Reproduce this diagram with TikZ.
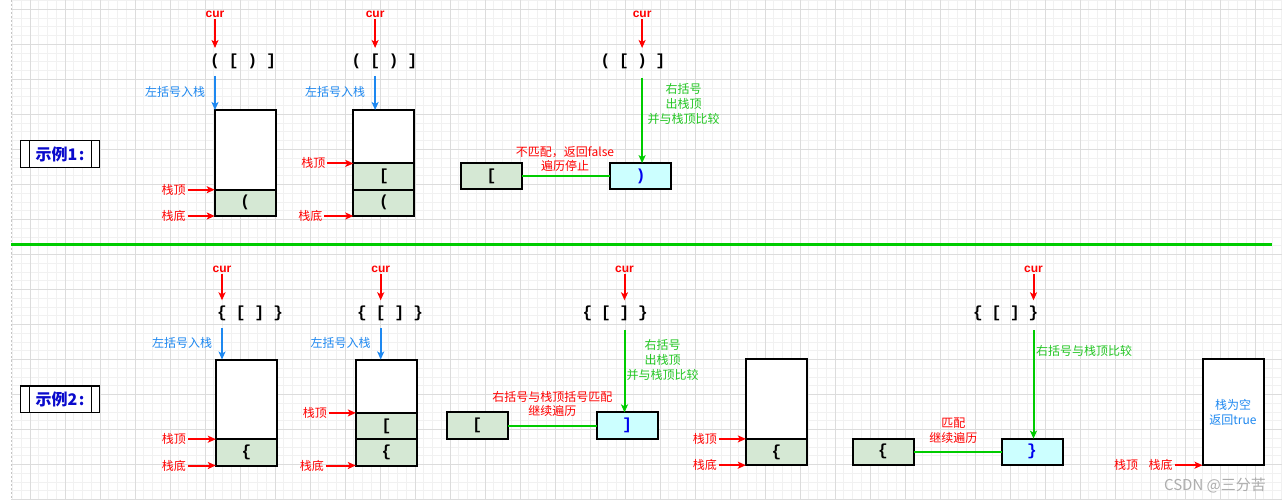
\documentclass[tikz,border=0pt]{standalone}
\usepackage{fontspec}
\setmainfont{Liberation Sans}
\newfontfamily\cjk{Noto Sans CJK SC}
\newfontfamily\monof{Liberation Mono}
\usetikzlibrary{arrows.meta}
\definecolor{cred}{HTML}{FF0000}
\definecolor{cblue}{HTML}{1E88F0}
\definecolor{cgreen}{HTML}{00CC00}
\definecolor{cgtext}{HTML}{22C622}
\definecolor{cellfill}{HTML}{D5E8D4}
\definecolor{cyanfill}{HTML}{CCFFFF}
\definecolor{titleblue}{HTML}{0A0ACC}
\definecolor{boxtext}{HTML}{0000EE}
\definecolor{gridminor}{HTML}{F1F1F1}
\definecolor{gridmajor}{HTML}{DCDCDC}
\newcommand\brseq[8]{%
  \node[chr] (#1a) at (#2,#3) {#5};
  \node[chr] (#1b) at ({#2+#4},#3) {#6};
  \node[chr] (#1c) at ({#2+2*#4},#3) {#7};
  \node[chr] (#1d) at ({#2+3*#4},#3) {#8};}
\begin{document}
\begin{tikzpicture}[x=1pt,y=-1pt,
  every node/.style={inner sep=0pt,outer sep=0pt},
  tipst/.style={-{Stealth[length=8pt,width=7pt,inset=2pt]}},
  redarr/.style={draw=cred,line width=2pt,tipst},
  bluearr/.style={draw=cblue,line width=2pt,tipst,shorten <=2pt},
  greenarr/.style={draw=cgreen,line width=2pt,tipst,shorten <=4pt},
  greenline/.style={draw=cgreen,line width=2pt},
  curlbl/.style={text=cred,font=\bfseries\fontsize{12}{14}\selectfont,inner sep=2pt},
  chr/.style={font=\monof\bfseries\fontsize{16}{18}\selectfont,minimum height=26pt},
  redlbl/.style={text=cred,font=\cjk\fontsize{12}{14}\selectfont,align=center},
  bluelbl/.style={text=cblue,font=\cjk\fontsize{12}{14}\selectfont},
  greenlbl/.style={text=cgtext,font=\cjk\fontsize{12}{15}\selectfont,align=center},
  stackbox/.style={draw=black,line width=2pt,fill=white,minimum width=61pt,minimum height=106pt},
  cellbox/.style={draw=black,line width=2pt,fill=cellfill,minimum width=61pt,minimum height=26.3pt,
    font=\monof\bfseries\fontsize{16}{18}\selectfont},
  cmpbox/.style={cellbox,fill=cyanfill,text=boxtext},
  titlebox/.style={draw=black,line width=1.5pt,fill=white,minimum width=78.6pt,minimum height=26.6pt,
    text=titleblue,font=\cjk\bfseries\fontsize{16}{18}\selectfont}
]
\useasboundingbox (0,0) rectangle (1282,500);
\fill[white] (0,0) rectangle (1282,500);
% grid
\foreach \i in {0,...,145} \draw[gridminor,line width=0.6pt] ({12.5+8.75*\i},0) -- ++(0,500);
\foreach \j in {0,...,57} \draw[gridminor,line width=0.6pt] (11,{0.55+8.75*\j}) -- (1282,{0.55+8.75*\j});
\foreach \i in {0,...,35} \draw[gridmajor,line width=0.8pt] ({30+35*\i},0) -- ++(0,500);
\foreach \j in {0,...,14} \draw[gridmajor,line width=0.8pt] (11,{9.3+35*\j}) -- (1282,{9.3+35*\j});
\draw[gray!45,line width=0.8pt,dash pattern=on 2pt off 2pt] (11,0) -- (11,500);

% separator
\coordinate (sepL) at (11,244.3);
\coordinate (sepR) at (1272,244.3);
\draw[greenline,line width=2.4pt] (sepL) -- (sepR);

% ===== Example 1 =====
\node[titlebox] (t1) at (60,154) {示例1\hspace{1.5pt}:\hspace{8pt}};
\draw[line width=1.5pt] ([xshift=8.6pt]t1.north west) -- ([xshift=8.6pt]t1.south west);
\draw[line width=1.5pt] ([xshift=-7.6pt]t1.north east) -- ([xshift=-7.6pt]t1.south east);

% column 1
\brseq{qa}{215}{61}{18.7}{(}{[}{)}{]}
\node[curlbl] (cura) at ([yshift=47pt]qaa.center) {cur};
\draw[redarr] (cura) -- (qaa);
\node[stackbox] (sa) at (245.2,163) {};
\node[cellbox,anchor=south] (sa1) at (sa.south) {(};
\draw[bluearr] (qaa.south) -- node[bluelbl,left=10pt] (la) {左括号入栈} (qaa.south |- sa.north);
\node[redlbl,anchor=east] (topa) at ([xshift=-29pt]sa1.north west) {栈顶};
\node[redlbl,anchor=east] (bota) at ([xshift=-29pt]sa.south west) {栈底};
\draw[redarr,shorten <=2pt] (topa) -- (sa1.north west);
\draw[redarr,shorten <=2pt] (bota) -- (sa.south west);

% column 2
\brseq{qb}{356.5}{61}{18.6}{(}{[}{)}{]}
\node[curlbl] (curb) at ([yshift=47pt]qbb.center) {cur};
\draw[redarr] (curb) -- (qbb);
\node[stackbox] (sb) at (383.8,163) {};
\node[cellbox,anchor=south] (sb1) at (sb.south) {(};
\node[cellbox,anchor=south] (sb2) at (sb1.north) {[};
\draw[bluearr] (qbb.south) -- node[bluelbl,left=10pt] (lb) {左括号入栈} (qbb.south |- sb.north);
\node[redlbl,anchor=east] (topb) at ([xshift=-28pt]sb2.north west) {栈顶};
\node[redlbl,anchor=east] (botb) at ([xshift=-31pt]sb.south west) {栈底};
\draw[redarr,shorten <=2pt] (topb) -- (sb2.north west);
\draw[redarr,shorten <=2pt] (botb) -- (sb.south west);

% column 3
\brseq{qc}{605.5}{61}{18.3}{(}{[}{)}{]}
\node[curlbl] (curc) at ([yshift=47pt]qcc.center) {cur};
\draw[redarr] (curc) -- (qcc);
\node[cellbox] (ba) at (491.5,176.3) {[};
\node[cmpbox] (bb) at (640.7,176.3) {)};
\draw[greenarr] (qcc.south) -- (qcc.south |- bb.north);
\node[greenlbl] (ga) at (683.5,104) {右括号\\出栈顶\\并与栈顶比较};
\draw[greenline] (ba) -- (bb);
\node[redlbl] (ma) at (565,158.7) {不匹配，返回false\\遍历停止};

% ===== Example 2 =====
\node[titlebox] (t2) at (60,399.2) {示例2\hspace{1.5pt}:\hspace{8pt}};
\draw[line width=1.5pt] ([xshift=8.6pt]t2.north west) -- ([xshift=8.6pt]t2.south west);
\draw[line width=1.5pt] ([xshift=-7.6pt]t2.north east) -- ([xshift=-7.6pt]t2.south east);

% column 1
\brseq{qd}{222}{313.3}{18.7}{\{}{[}{]}{\}}
\node[curlbl] (curd) at ([yshift=44.3pt]qda.center) {cur};
\draw[redarr] (curd) -- (qda);
\node[stackbox] (sd) at (246.3,412.5) {};
\node[cellbox,anchor=south] (sd1) at (sd.south) {\{};
\draw[bluearr] (qda.south) -- node[bluelbl,left=10pt] (ld) {左括号入栈} (qda.south |- sd.north);
\node[redlbl,anchor=east] (topd) at ([xshift=-30pt]sd1.north west) {栈顶};
\node[redlbl,anchor=east] (botd) at ([xshift=-30pt]sd.south west) {栈底};
\draw[redarr,shorten <=2pt] (topd) -- (sd1.north west);
\draw[redarr,shorten <=2pt] (botd) -- (sd.south west);

% column 2
\brseq{qe}{362}{313.3}{18.7}{\{}{[}{]}{\}}
\node[curlbl] (cure) at ([yshift=44.3pt]qeb.center) {cur};
\draw[redarr] (cure) -- (qeb);
\node[stackbox] (se) at (386.3,412.5) {};
\node[cellbox,anchor=south] (se1) at (se.south) {\{};
\node[cellbox,anchor=south] (se2) at (se1.north) {[};
\draw[bluearr] (qeb.south) -- node[bluelbl,left=10pt] (le) {左括号入栈} (qeb.south |- se.north);
\node[redlbl,anchor=east] (tope) at ([xshift=-29pt]se2.north west) {栈顶};
\node[redlbl,anchor=east] (bote) at ([xshift=-32pt]se.south west) {栈底};
\draw[redarr,shorten <=2pt] (tope) -- (se2.north west);
\draw[redarr,shorten <=2pt] (bote) -- (se.south west);

% column 3
\brseq{qf}{587.5}{313.3}{18.5}{\{}{[}{]}{\}}
\node[curlbl] (curf) at ([yshift=44.3pt]qfc.center) {cur};
\draw[redarr] (curf) -- (qfc);
\node[cellbox] (bc) at (477.2,425.5) {[};
\node[cmpbox] (bd) at (627.2,425.5) {]};
\draw[greenarr] (qfc.south) -- (qfc.south |- bd.north);
\node[greenlbl] (gb) at (662.5,360.2) {右括号\\出栈顶\\并与栈顶比较};
\draw[greenline] (bc) -- (bd);
\node[redlbl] (mb) at (552.3,404) {右括号与栈顶括号匹配\\继续遍历};

% stack after pop
\node[stackbox] (sg) at (776.3,412.2) {};
\node[cellbox,anchor=south] (sg1) at (sg.south) {\{};
\node[redlbl,anchor=east] (topg) at ([xshift=-29pt]sg1.north west) {栈顶};
\node[redlbl,anchor=east] (botg) at ([xshift=-29pt]sg.south west) {栈底};
\draw[redarr,shorten <=2pt] (topg) -- (sg1.north west);
\draw[redarr,shorten <=2pt] (botg) -- (sg.south west);

% column 4
\brseq{qh}{978}{313.3}{18.5}{\{}{[}{]}{\}}
\node[curlbl] (curh) at ([yshift=44.3pt]qhd.center) {cur};
\draw[redarr] (curh) -- (qhd);
\node[cellbox] (be) at (883,451.8) {\{};
\node[cmpbox] (bf) at (1032,451.8) {\}};
\draw[greenarr] (qhd.south) -- (qhd.south |- bf.north);
\node[greenlbl,anchor=west] (gc) at (1036,351) {右括号与栈顶比较};
\draw[greenline] (be) -- (bf);
\node[redlbl,font=\cjk\fontsize{12}{15.5}\selectfont] (mc) at (953.3,430.5) {匹配\\继续遍历};

% empty stack
\node[stackbox,text=cblue,font=\cjk\fontsize{12}{15}\selectfont,align=center] (si) at (1233,412.2) {栈为空\\返回true};
\node[redlbl,anchor=east] (boti) at ([xshift=-30pt]si.south west) {栈顶\hspace{10.5pt}栈底};
\draw[redarr,shorten <=2pt] (boti) -- (si.south west);

% watermark
\node[text=black!32,font=\cjk\fontsize{15}{17}\selectfont] (wm) at (1215,485) {CSDN @三分苦};
\end{tikzpicture}
\end{document}
